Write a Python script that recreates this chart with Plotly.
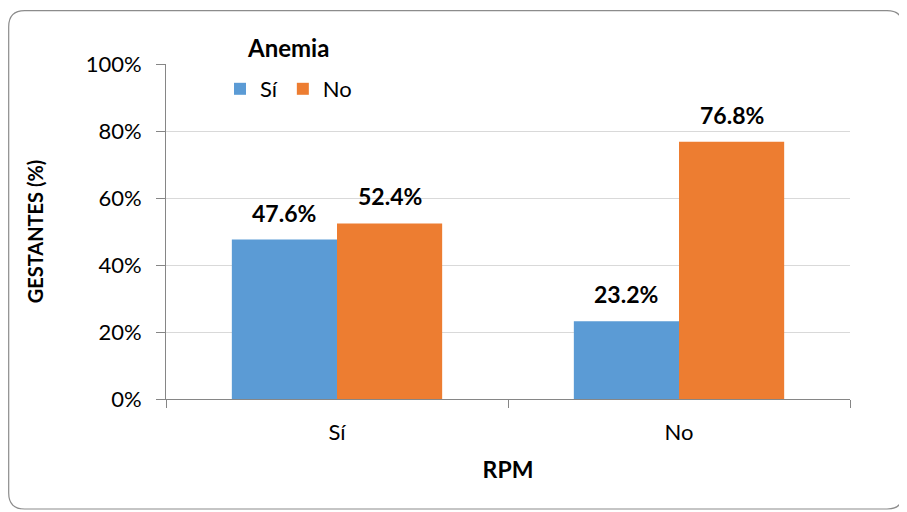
import plotly.graph_objects as go

categories = ["Sí", "No"]
series_names = ["Sí", "No"]
anemia_si = [0.476, 0.232]
anemia_no = [0.524, 0.768]
label_si = ["47.6%", "23.2%"]
label_no = ["52.4%", "76.8%"]
y_ticks = [0, 0.2, 0.4, 0.6, 0.8, 1.0]
y_ticklabels = ["0%", "20%", "40%", "60%", "80%", "100%"]
legend_title = "Anemia"

W, H = 907, 512
L, R, T, B = 158, 65, 56, 121
PW, PH = W - L - R, H - T - B

FONT = "Lato"
blue = "#5B9BD5"
orange = "#ED7D31"

fig = go.Figure()
fig.add_trace(go.Bar(name=series_names[0], x=categories, y=anemia_si,
                     marker=dict(color=blue, line=dict(width=0))))
fig.add_trace(go.Bar(name=series_names[1], x=categories, y=anemia_no,
                     marker=dict(color=orange, line=dict(width=0))))

# data labels
for vals, labs, shift in [(anemia_si, label_si, -1), (anemia_no, label_no, 1)]:
    for c, v, t in zip(categories, vals, labs):
        fig.add_annotation(x=c, y=v, text="<b>%s</b>" % t, showarrow=False,
                           xref="x", yref="y", xshift=shift * 53, yshift=11,
                           yanchor="bottom", font=dict(family=FONT, size=23, color="#000"))

def px(xp):
    return (xp - L) / PW

def py(yp):
    return (H - B - yp) / PH

# legend title
fig.add_annotation(x=px(280), y=py(40), xref="paper", yref="paper", showarrow=False,
                   text="<b>%s</b>" % legend_title, xanchor="center", yanchor="middle",
                   font=dict(family=FONT, size=24, color="#000"))

# rounded border around the chart
x0, y0, x1, y1, r = 0.7, 2.7, 895, 501, 16
path = (f"M {px(x0+r)},{py(y0)} L {px(x1-r)},{py(y0)} Q {px(x1)},{py(y0)} {px(x1)},{py(y0+r)} "
        f"L {px(x1)},{py(y1-r)} Q {px(x1)},{py(y1)} {px(x1-r)},{py(y1)} "
        f"L {px(x0+r)},{py(y1)} Q {px(x0)},{py(y1)} {px(x0)},{py(y1-r)} "
        f"L {px(x0)},{py(y0+r)} Q {px(x0)},{py(y0)} {px(x0+r)},{py(y0)} Z")
fig.add_shape(type="path", path=path, xref="paper", yref="paper",
              line=dict(color="#8c8c8c", width=1.2), layer="below")

fig.update_layout(
    width=W, height=H,
    margin=dict(l=L, r=R, t=T, b=B, autoexpand=False),
    paper_bgcolor="white", plot_bgcolor="white",
    barmode="group", bargap=0.385, bargroupgap=0,
    font=dict(family=FONT, size=22, color="#000"),
    legend=dict(orientation="h", x=px(212), y=py(60), xanchor="left", yanchor="top",
                font=dict(size=22), bgcolor="rgba(0,0,0,0)", itemwidth=30,
                traceorder="normal"),
    showlegend=True,
)
fig.update_xaxes(showline=True, linecolor="#868686", linewidth=1,
                 ticks="outside", tickson="boundaries", ticklen=8, tickcolor="#868686",
                 tickfont=dict(size=22), automargin=False, ticklabelstandoff=14,
                 title=dict(text="<b>RPM</b>", font=dict(size=23), standoff=17))
fig.update_yaxes(range=[0, 1], tickvals=y_ticks, ticktext=y_ticklabels,
                 showline=True, linecolor="#868686", linewidth=1,
                 ticks="outside", ticklen=9, tickcolor="#868686",
                 gridcolor="#d9d9d9", gridwidth=1, zeroline=False,
                 tickfont=dict(size=22), automargin=False, ticklabelstandoff=10,
                 title=dict(text="<b>GESTANTES (%)</b>", font=dict(size=20), standoff=36))

fig.write_html("out.html")
